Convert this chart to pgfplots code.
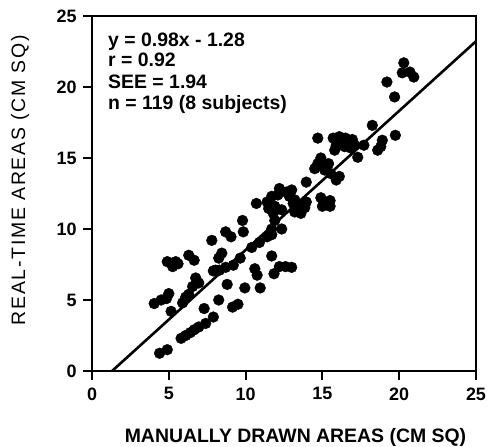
\documentclass[border=0pt]{standalone}
\usepackage{fontspec}
\setmainfont{Liberation Sans}
\newfontfamily\spacedsans[LetterSpace=9]{Liberation Sans}
\usepackage{pgfplots}
\usepackage{pgfplotstable}
\pgfplotsset{compat=1.18}

% manually drawn area (x) vs real-time area (y), cm^2
\pgfplotstableread{
x y
4.4 1.25
4.9 1.5
4.05 4.75
4.5 5.0
4.85 5.1
5.0 5.45
5.15 4.2
4.9 7.7
5.45 7.7
5.25 7.35
5.6 7.55
5.8 2.3
6.1 2.5
6.4 2.7
6.65 2.9
6.95 3.1
7.4 3.35
7.9 3.8
5.9 4.8
6.1 5.2
6.3 5.4
6.3 8.15
6.65 7.8
6.75 6.55
6.95 6.2
6.55 5.95
7.3 4.4
8.25 5.0
7.9 7.05
8.05 7.1
8.3 7.1
8.7 7.3
9.2 7.45
9.65 7.95
8.45 8.3
8.25 7.95
7.8 9.2
8.7 9.8
9.05 9.45
9.8 10.6
9.85 9.8
8.8 6.1
9.15 4.5
9.5 4.7
9.95 5.85
10.95 5.85
10.6 7.2
10.75 6.75
10.9 9.05
10.4 8.7
11.7 8.1
11.85 6.85
12.2 7.35
12.6 7.35
13.0 7.3
10.7 11.8
11.7 10.0
12.35 10.0
11.7 9.6
11.4 9.45
11.4 11.9
11.5 11.45
11.9 11.6
11.8 11.1
11.9 10.6
11.7 12.3
12.1 12.4
12.65 12.6
12.2 12.85
13.0 12.75
12.85 12.3
12.35 11.35
13.1 11.8
13.4 11.6
13.5 11.4
13.85 11.5
13.6 11.1
13.2 11.2
13.2 12.05
13.95 11.9
13.95 13.3
14.9 12.2
15.5 12.0
15.0 11.6
15.5 11.6
14.9 15.0
14.7 14.6
14.5 14.25
15.15 14.15
15.2 14.4
15.4 14.6
15.55 13.9
16.1 13.7
15.9 13.45
14.7 16.4
15.7 16.4
16.1 16.5
16.5 16.4
16.85 16.1
16.25 16.05
15.9 15.9
16.45 15.8
15.8 15.55
16.85 15.7
17.1 15.9
16.95 16.3
17.7 15.9
17.3 15.05
18.25 17.3
18.6 15.55
18.8 15.8
18.9 16.25
19.75 16.6
19.2 20.35
19.7 19.3
20.3 21.7
20.2 21.0
20.7 21.05
20.95 20.7
}\areadata

\begin{document}
\begin{tikzpicture}
\begin{axis}[
  scale only axis,
  width=384bp, height=355bp,
  xmin=0, xmax=25, ymin=0, ymax=25,
  xtick={0,5,10,15,20,25},
  ytick={0,5,10,15,20,25},
  xtick pos=bottom, ytick pos=left,
  tick align=outside,
  major tick length=9bp,
  axis line style={line width=2.4bp},
  every tick/.style={black, line width=2bp},
  /pgf/number format/assume math mode=true,
  ticklabel style={font=\fontsize{18}{20}\selectfont\bfseries},
  xticklabel style={yshift=-4bp},
  yticklabel style={xshift=-3bp},
  xlabel={MANUALLY DRAWN AREAS (CM SQ)},
  ylabel={REAL-TIME AREAS (CM SQ)},
  xlabel style={at={([yshift=-71bp]rel axis cs:0.53,0)}, anchor=base,
    font=\fontsize{19.5}{22}\selectfont\bfseries},
  ylabel style={at={([xshift=-72bp]rel axis cs:0,0.537)}, anchor=center,
    font=\fontsize{19.5}{22}\spacedsans},
]
% individual measurements
\addplot[only marks, mark=*, mark size=5.4bp, black, mark options={fill=black, draw=black}]
  table[x=x, y=y] {\areadata};
% least-squares line y = 0.98x - 1.28
\addplot[black, line width=2.6bp] coordinates {(1.306,0) (25,23.22)};
% fit statistics
\node[anchor=base west, inner sep=0pt, font=\fontsize{19.5}{22}\selectfont\bfseries]
  at ([xshift=16bp,yshift=-31bp]rel axis cs:0,1) {y = 0.98x - 1.28};
\node[anchor=base west, inner sep=0pt, font=\fontsize{19.5}{22}\selectfont\bfseries]
  at ([xshift=16bp,yshift=-51bp]rel axis cs:0,1) {r = 0.92};
\node[anchor=base west, inner sep=0pt, font=\fontsize{19.5}{22}\selectfont\bfseries]
  at ([xshift=16bp,yshift=-73bp]rel axis cs:0,1) {SEE = 1.94};
\node[anchor=base west, inner sep=0pt, font=\fontsize{19.5}{22}\selectfont\bfseries]
  at ([xshift=16bp,yshift=-94bp]rel axis cs:0,1) {n = 119 (8 subjects)};
\end{axis}
\pgfresetboundingbox
\path[use as bounding box] ([shift={(-92bp,-76bp)}]current axis.south west)
  rectangle ([shift={(12bp,16bp)}]current axis.north east);
\end{tikzpicture}
\end{document}
